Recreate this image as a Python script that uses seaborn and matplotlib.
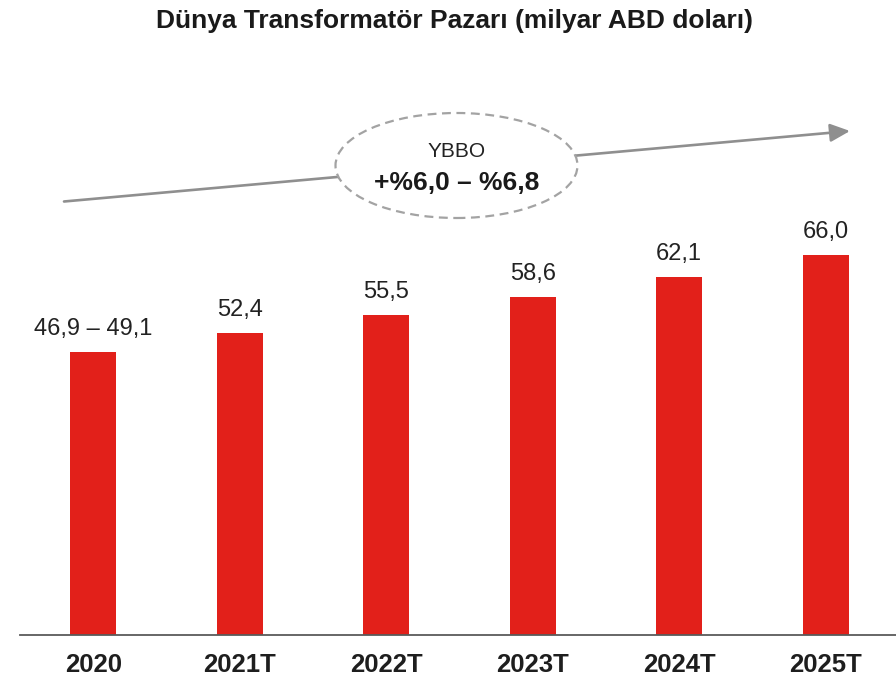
import matplotlib
matplotlib.use("Agg")
import matplotlib.pyplot as plt
import seaborn as sns
import pandas as pd
from matplotlib.patches import Ellipse, FancyArrowPatch

# ---- data ----
categories = ["2020", "2021T", "2022T", "2023T", "2024T", "2025T"]
values = [49.1, 52.4, 55.5, 58.6, 62.1, 66.0]
value_labels = ["46,9 – 49,1", "52,4", "55,5", "58,6", "62,1", "66,0"]
title = "Dünya Transformatör Pazarı (milyar ABD doları)"
cagr_label = "YBBO"
cagr_value = "+%6,0 – %6,8"

sns.set_theme(style="white")
plt.rcParams["font.family"] = ["Liberation Sans", "DejaVu Sans"]

W, H = 896, 681
fig = plt.figure(figsize=(W / 100, H / 100), dpi=100)
# axes: baseline at y=634.7px, left at x=20px
ax = fig.add_axes([20 / W, (H - 634.7) / H, (W - 20) / W, 576 / H])

df = pd.DataFrame({"cat": categories, "val": values})
sns.barplot(data=df, x="cat", y="val", color="#E2201A", saturation=1,
            width=0.314, ax=ax, edgecolor="none")

ax.set_ylim(0, 100)
ax.set_xlim(-0.5, 5.48)
ax.set_xlabel("")
ax.set_ylabel("")
ax.set_yticks([])
for s in ["top", "right", "left"]:
    ax.spines[s].set_visible(False)
ax.spines["bottom"].set_color("#5a5a5a")
ax.spines["bottom"].set_linewidth(1.3)
ax.tick_params(axis="x", length=0, pad=13)
for lbl in ax.get_xticklabels():
    lbl.set_fontsize(18.5)
    lbl.set_fontweight("bold")
    lbl.set_color("#1e1e1e")

for i, (v, t) in enumerate(zip(values, value_labels)):
    ax.annotate(t, xy=(i, v), xytext=(0, 8.5), textcoords="offset points",
                ha="center", va="bottom", fontsize=17, color="#222222")

# title
fig.text(454.5 / W, 1 - 28 / H, title, ha="center", va="baseline",
         fontsize=19, fontweight="bold", color="#1a1a1a")

# trend arrow
def fx(px):
    return px / W

def fy(py):
    return 1 - py / H

arrow = FancyArrowPatch((fx(64), fy(201.5)), (fx(850), fy(131)),
                        transform=fig.transFigure,
                        arrowstyle="-|>,head_length=12,head_width=5.5",
                        mutation_scale=1, color="#8f8f8f", lw=1.9,
                        shrinkA=0, shrinkB=0, zorder=3)
fig.patches.append(arrow)

ell = Ellipse((fx(456.5), fy(165.5)), 242 / W, 105 / H,
              transform=fig.transFigure, facecolor="white",
              edgecolor="#a3a3a3", lw=1.6, linestyle=(0, (4, 2.5)), zorder=4)
fig.patches.append(ell)

fig.text(fx(456.5), fy(157), cagr_label, ha="center", va="baseline",
         fontsize=15, color="#222222", zorder=5)
fig.text(fx(457), fy(190), cagr_value, ha="center", va="baseline",
         fontsize=19, fontweight="bold", color="#1a1a1a", zorder=5)

fig.savefig("out.png", dpi=100)
